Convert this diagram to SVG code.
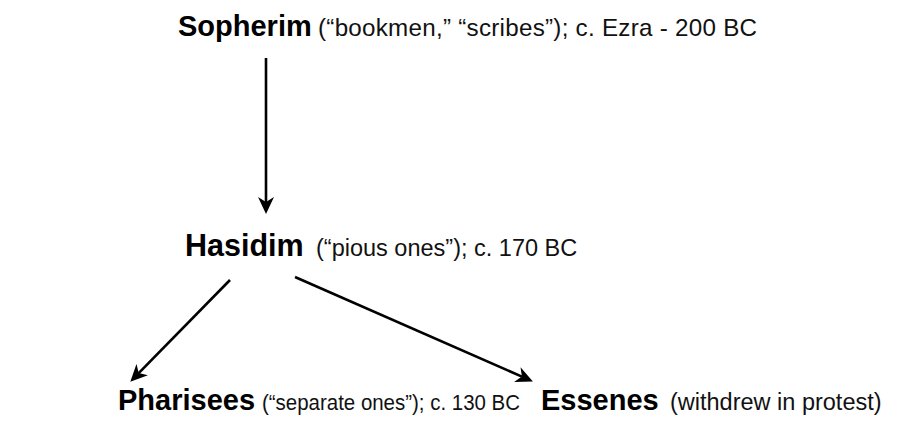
<svg xmlns="http://www.w3.org/2000/svg" width="898" height="421" viewBox="0 0 898 421">
  <style>
    .b { font-family: "Liberation Sans", Arial, sans-serif; font-weight: bold; font-size: 29px; fill: #000; }
    .s { font-family: "Liberation Sans", Arial, sans-serif; font-size: 23.5px; fill: #111; }
    .c { stroke: #000; stroke-width: 2.6; fill: none; marker-end: url(#ah); }
  </style>
  <defs>
    <marker id="ah" viewBox="0 -8 17 16" refX="5" refY="0" markerUnits="userSpaceOnUse" markerWidth="17" markerHeight="16" orient="auto">
      <path d="M0,-8 L17,0 L0,8 L5,0 Z" fill="#000"/>
    </marker>
  </defs>
  <rect width="898" height="421" fill="#fff"/>
  <g id="connectors">
    <line class="c" x1="266" y1="58" x2="266" y2="202"/>
    <line class="c" x1="230" y1="280" x2="138.7" y2="373.1"/>
    <line class="c" x1="295" y1="277" x2="521.9" y2="376.6"/>
  </g>
  <g id="sopherim">
    <text class="b" x="178" y="36">Sopherim</text>
    <text class="s" x="318" y="36" style="font-size:24.2px" textLength="439" lengthAdjust="spacing">(“bookmen,” “scribes”); c. Ezra - 200 BC</text>
  </g>
  <g id="hasidim">
    <text class="b" x="185" y="256" style="font-size:30.5px">Hasidim</text>
    <text class="s" x="316" y="256">(“pious ones”); c. 170 BC</text>
  </g>
  <g id="pharisees">
    <text class="b" x="118" y="410">Pharisees</text>
    <text class="s" x="262" y="410" style="font-size:22px" textLength="258" lengthAdjust="spacingAndGlyphs">(“separate ones”); c. 130 BC</text>
  </g>
  <g id="essenes">
    <text class="b" x="541" y="410">Essenes</text>
    <text class="s" x="670" y="410">(withdrew in protest)</text>
  </g>
</svg>
